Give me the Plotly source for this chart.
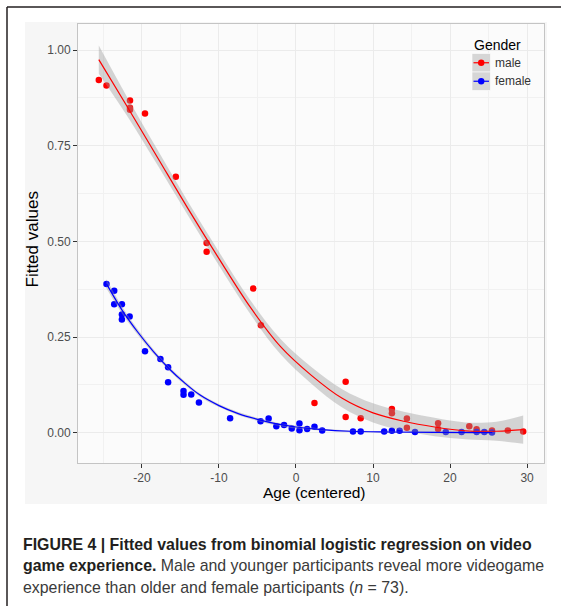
import plotly.graph_objects as go

# ---------------- data ----------------
male_age = [-25.6, -24.6, -21.55, -21.55, -21.55, -19.6, -15.6, -11.6, -11.6, -5.55, -4.55,
            2.4, 6.45, 6.45, 8.4, 12.45, 12.45, 14.4, 14.4, 18.45, 18.45, 22.5, 23.45,
            25.45, 27.5, 29.5]
male_fit = [0.922, 0.907, 0.868, 0.849, 0.844, 0.834, 0.669, 0.496, 0.473, 0.377, 0.281,
            0.078, 0.133, 0.041, 0.038, 0.062, 0.051, 0.037, 0.013, 0.025, 0.010, 0.017,
            0.009, 0.006, 0.006, 0.003]

female_age = [-24.6, -23.6, -23.6, -22.6, -22.6, -22.6, -21.6, -19.6, -17.6, -16.6, -16.6,
              -14.6, -14.6, -13.6, -12.6, -8.55, -4.6, -3.55, -2.55, -1.55, -0.55, 0.45,
              0.45, 1.45, 2.4, 3.4, 7.4, 8.4, 11.45, 12.45, 13.45, 15.45, 19.45, 21.5,
              23.45, 24.45, 25.45]
female_fit = [0.389, 0.371, 0.336, 0.336, 0.309, 0.296, 0.304, 0.213, 0.193, 0.171, 0.132,
              0.109, 0.099, 0.100, 0.079, 0.038, 0.030, 0.037, 0.017, 0.020, 0.011, 0.024,
              0.0065, 0.010, 0.016, 0.006, 0.003, 0.003, 0.003, 0.005, 0.005, 0.002, 0.002,
              0.002, 0.002, 0.002, 0.001]

# smoothed curves
male_curve_age = [-25.6, -22, -18, -14, -10, -6, -2, 2, 6, 10, 14, 18, 22, 26, 29.5]
male_curve_fit = [0.975, 0.855, 0.720, 0.585, 0.455, 0.330, 0.225, 0.150, 0.090, 0.052,
                  0.030, 0.015, 0.005, 0.004, 0.008]
male_curve_lo = [0.938, 0.830, 0.700, 0.567, 0.437, 0.312, 0.205, 0.128, 0.066, 0.027,
                 0.005, -0.009, -0.017, -0.021, -0.029]
male_curve_hi = [1.012, 0.880, 0.740, 0.603, 0.473, 0.348, 0.245, 0.172, 0.114, 0.077,
                 0.055, 0.039, 0.027, 0.029, 0.045]

female_curve_age = [-24.6, -22.5, -20.5, -18.5, -16.5, -14.5, -12.5, -10, -7.5, -5, -2.5,
                    0, 3, 7, 12, 18, 25.5]
female_curve_fit = [0.389, 0.318, 0.262, 0.212, 0.168, 0.131, 0.099, 0.071, 0.050, 0.035,
                    0.023, 0.015, 0.009, 0.004, 0.002, 0.001, 0.0005]
female_curve_lo = [0.377, 0.309, 0.255, 0.206, 0.163, 0.126, 0.095, 0.067, 0.046, 0.031,
                   0.019, 0.011, 0.006, 0.002, 0.000, -0.001, -0.002]
female_curve_hi = [0.401, 0.327, 0.269, 0.218, 0.173, 0.136, 0.103, 0.075, 0.054, 0.039,
                   0.027, 0.019, 0.012, 0.006, 0.004, 0.003, 0.003]

x_ticks = [-20, -10, 0, 10, 20, 30]
x_ticktext = ["-20", "-10", "0", "10", "20", "30"]
x_minor = [-25, -15, -5, 5, 15, 25]
y_ticks = [0.0, 0.25, 0.5, 0.75, 1.0]
y_ticktext = ["0.00", "0.25", "0.50", "0.75", "1.00"]
y_minor = [0.125, 0.375, 0.625, 0.875]

series_names = ["male", "female"]
series_colors = ["#ff0000", "#0000ff"]

# ---------------- layout geometry ----------------
W, H = 561, 606
L, T, PW, PH = 78, 24, 466, 439
FONT = "Liberation Sans, Arial, Helvetica, sans-serif"


def fx(px):
    return (px - L) / PW


def fy(py):
    return (T + PH - py) / PH


fig = go.Figure()

# points
fig.add_trace(go.Scatter(x=male_age, y=male_fit, mode="markers",
                         marker=dict(color=series_colors[0], size=6.5), showlegend=False))
fig.add_trace(go.Scatter(x=female_age, y=female_fit, mode="markers",
                         marker=dict(color=series_colors[1], size=6.5), showlegend=False))

band_fill = "rgba(153,153,153,0.4)"
for cx, cf, clo, chi, col in [
    (male_curve_age, male_curve_fit, male_curve_lo, male_curve_hi, series_colors[0]),
    (female_curve_age, female_curve_fit, female_curve_lo, female_curve_hi, series_colors[1]),
]:
    fig.add_trace(go.Scatter(x=cx, y=clo, mode="lines", line=dict(width=0, shape="spline"),
                             showlegend=False, hoverinfo="skip"))
    fig.add_trace(go.Scatter(x=cx, y=chi, mode="lines", line=dict(width=0, shape="spline"),
                             fill="tonexty", fillcolor=band_fill, showlegend=False,
                             hoverinfo="skip"))
    fig.add_trace(go.Scatter(x=cx, y=cf, mode="lines",
                             line=dict(color=col, width=1.2, shape="spline"),
                             showlegend=False))

shapes = []
# outer grey plot background and panel background
shapes.append(dict(type="rect", xref="paper", yref="paper", layer="below",
                   x0=fx(25), x1=fx(547), y0=fy(504), y1=fy(22),
                   fillcolor="#f6f6f6", line=dict(width=0)))
shapes.append(dict(type="rect", xref="paper", yref="paper", layer="below",
                   x0=0, x1=1, y0=0, y1=1, fillcolor="#fbfbfb", line=dict(width=0)))
# figure frame
shapes.append(dict(type="line", xref="paper", yref="paper", x0=fx(7), x1=fx(565),
                   y0=fy(7), y1=fy(7), line=dict(color="#231f20", width=1.5)))
shapes.append(dict(type="line", xref="paper", yref="paper", x0=fx(7), x1=fx(7),
                   y0=fy(7), y1=fy(612), line=dict(color="#231f20", width=1.5)))

annotations = []
# manual legend
annotations.append(dict(text="Gender", xref="paper", yref="paper", x=fx(472), y=fy(45),
                        xanchor="left", yanchor="middle", showarrow=False,
                        font=dict(family=FONT, size=14, color="#000000")))
key_top = 53.5
key_h = 18.5
for i, (name, col) in enumerate(zip(series_names, series_colors)):
    y0 = key_top + i * key_h
    yc = y0 + key_h / 2
    shapes.append(dict(type="rect", xref="paper", yref="paper",
                       x0=fx(472), x1=fx(490.5), y0=fy(y0 + key_h), y1=fy(y0),
                       fillcolor="#d6d6d6", line=dict(color="#ffffff", width=0.6)))
    shapes.append(dict(type="line", xref="paper", yref="paper",
                       x0=fx(473.5), x1=fx(489), y0=fy(yc), y1=fy(yc),
                       line=dict(color=col, width=1.2)))
    shapes.append(dict(type="circle", xref="paper", yref="paper",
                       x0=fx(481.2 - 3.2), x1=fx(481.2 + 3.2),
                       y0=fy(yc + 3.2), y1=fy(yc - 3.2),
                       fillcolor=col, line=dict(width=0)))
    annotations.append(dict(text=name, xref="paper", yref="paper", x=fx(493), y=fy(yc),
                            xanchor="left", yanchor="middle", showarrow=False,
                            font=dict(family=FONT, size=12, color="#333333")))

# axis titles
annotations.append(dict(text="Age (centered)", xref="paper", yref="paper",
                        x=fx(314), y=fy(492), xanchor="center", yanchor="middle",
                        showarrow=False, font=dict(family=FONT, size=15.5, color="#000000")))
annotations.append(dict(text="Fitted values", xref="paper", yref="paper",
                        x=fx(32.5), y=fy(240), xanchor="center", yanchor="middle",
                        textangle=-90, showarrow=False,
                        font=dict(family=FONT, size=17, color="#000000")))

# caption
cap_font = dict(family=FONT, size=15.9, color="#231f20")
captions = [
    "<b>FIGURE 4 | Fitted values from binomial logistic regression on video</b>",
    "<b>game experience.</b><span style='color:#3a3a3a'> Male and younger participants reveal more videogame</span>",
    "<span style='color:#3a3a3a'>experience than older and female participants (<i>n</i> = 73).</span>",
]
for i, txt in enumerate(captions):
    annotations.append(dict(text=txt, xref="paper", yref="paper", x=fx(21),
                            y=fy(544 + i * 21.5), xanchor="left", yanchor="middle",
                            showarrow=False, font=cap_font))

axis_common = dict(
    showline=True, mirror=True, linecolor="#c4c4c4", linewidth=1,
    ticks="outside", ticklen=4, tickwidth=1, tickcolor="#333333",
    showgrid=True, gridcolor="#ebebeb", gridwidth=1, zeroline=False,
    tickfont=dict(family=FONT, size=12, color="#4d4d4d"),
)

fig.update_layout(
    width=W, height=H,
    margin=dict(l=L, r=W - L - PW, t=T, b=H - T - PH, pad=0),
    paper_bgcolor="#ffffff", plot_bgcolor="rgba(0,0,0,0)",
    showlegend=False,
    xaxis=dict(range=[-28.3, 32.2], tickmode="array", tickvals=x_ticks, ticktext=x_ticktext,
               minor=dict(tickmode="array", tickvals=x_minor, showgrid=True,
                          gridcolor="#f1f1f1", gridwidth=0.6, ticks=""),
               **axis_common),
    yaxis=dict(range=[-0.079, 1.068], tickmode="array", tickvals=y_ticks, ticktext=y_ticktext,
               minor=dict(tickmode="array", tickvals=y_minor, showgrid=True,
                          gridcolor="#f1f1f1", gridwidth=0.6, ticks=""),
               **axis_common),
    shapes=shapes,
    annotations=annotations,
)

fig.write_html("out.html")
